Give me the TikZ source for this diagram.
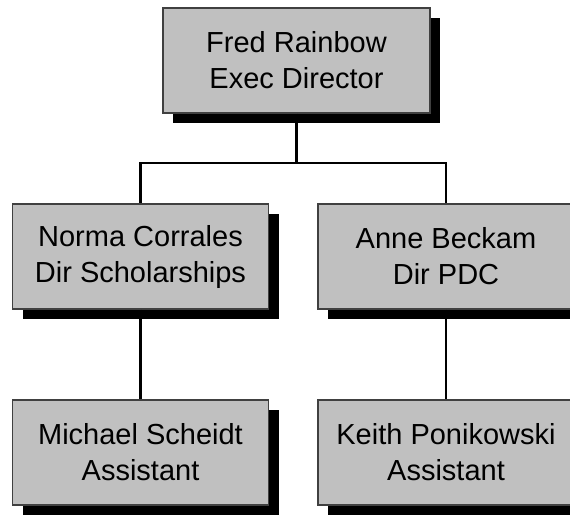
\documentclass[tikz,border=0pt]{standalone}
\usepackage{fontspec}
\setmainfont{Liberation Sans}
\usetikzlibrary{shadows}
\definecolor{boxgray}{HTML}{C0C0C0}
\definecolor{edgegray}{HTML}{404040}
\tikzset{
	person/.style={draw=edgegray, line width=1.2pt, fill=boxgray, inner sep=0pt,
		minimum height=105pt, align=center,
		font=\fontsize{29}{36}\selectfont,
		drop shadow={shadow xshift=10pt, shadow yshift=-10pt, fill=black, opacity=1}},
	link/.style={line width=2.6pt}
}
\begin{document}
\begin{tikzpicture}[x=1pt,y=-1pt]
	%Define the canvas, y runs downwards
	\useasboundingbox (0,0) rectangle (570,514);
	
	%Define the box widths and the column and row positions
	\pgfmathsetmacro{\wtop}{267}
	\pgfmathsetmacro{\wside}{256}
	\pgfmathsetmacro{\xl}{140.5}
	\pgfmathsetmacro{\xm}{296.5}
	\pgfmathsetmacro{\xr}{446}
	\pgfmathsetmacro{\ya}{60.5}
	\pgfmathsetmacro{\yb}{256.5}
	\pgfmathsetmacro{\yc}{452.5}
	\pgfmathsetmacro{\ybus}{163}
	
	%Draw the boxes
	\node[person, minimum width=\wtop] (fred) at (\xm,\ya) {Fred Rainbow\\Exec Director};
	\node[person, minimum width=\wside] (norma) at (\xl,\yb) {Norma Corrales\\Dir Scholarships};
	\node[person, minimum width=\wside] (anne) at (\xr,\yb) {Anne Beckam\\Dir PDC};
	\node[person, minimum width=\wside] (michael) at (\xl,\yc) {Michael Scheidt\\Assistant};
	\node[person, minimum width=\wside] (keith) at (\xr,\yc) {Keith Ponikowski\\Assistant};
	
	%Draw the connectors, the branch point sits on the bus
	\coordinate (bus) at (\xm,\ybus);
	\draw[link] (fred.south) -- (bus);
	\draw[link] (bus) -| (norma.north);
	\draw[link] (bus) -| (anne.north);
	\draw[link] (norma.south) -- (michael.north);
	\draw[link] (anne.south) -- (keith.north);

\end{tikzpicture}
\end{document}
